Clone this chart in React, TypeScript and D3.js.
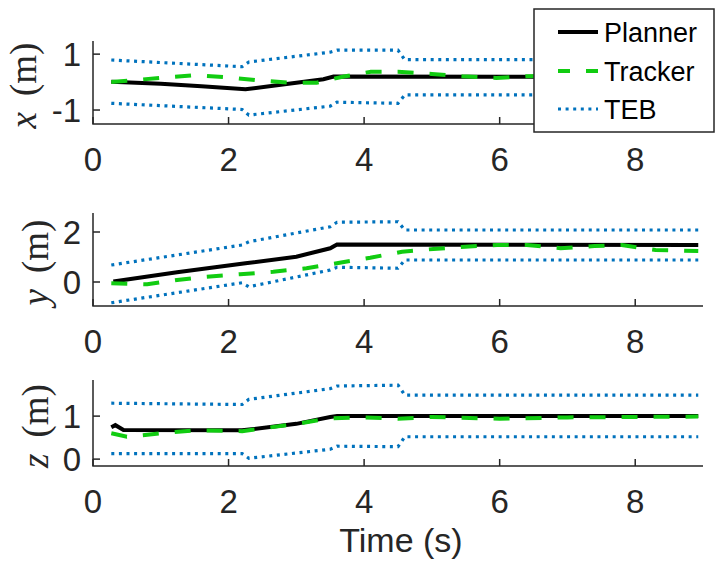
import React from 'react';
import * as d3 from "d3";

type Pt = [number, number];

// time axis
const timeTicks = [0, 2, 4, 6, 8];
const timeDomain: Pt = [0, 9];

// x (m)
const plannerX: Pt[] = [[0.27, 0.01], [1.0, -0.06], [1.6, -0.15], [2.25, -0.26], [2.8, -0.09], [3.4, 0.1], [3.55, 0.2], [8.93, 0.19]];
const trackerX: Pt[] = [[0.27, 0.0], [1.0, 0.15], [1.5, 0.25], [2.0, 0.17], [2.4, 0.07], [2.9, -0.02], [3.3, -0.02], [3.7, 0.2], [4.1, 0.37], [4.5, 0.37], [5.0, 0.29], [5.45, 0.21], [5.95, 0.15], [6.4, 0.21], [7.0, 0.22], [8.0, 0.2], [8.93, 0.2]];
const tebUpperX: Pt[] = [[0.27, 0.79], [2.2, 0.55], [2.3, 0.72], [3.5, 1.07], [3.6, 1.14], [4.5, 1.14], [4.6, 0.8], [8.93, 0.8]];
const tebLowerX: Pt[] = [[0.27, -0.76], [2.2, -0.98], [2.3, -1.18], [3.5, -0.86], [3.6, -0.72], [4.5, -0.76], [4.6, -0.46], [8.93, -0.46]];

// y (m)
const plannerY: Pt[] = [[0.3, 0.02], [1.24, 0.39], [2.25, 0.75], [3.0, 1.01], [3.5, 1.35], [3.6, 1.5], [8.93, 1.48]];
const trackerY: Pt[] = [[0.27, -0.05], [0.8, -0.09], [1.24, 0.08], [1.67, 0.21], [2.17, 0.31], [2.66, 0.41], [3.15, 0.55], [3.64, 0.77], [4.09, 0.97], [4.56, 1.21], [5.02, 1.32], [5.49, 1.41], [5.96, 1.48], [6.4, 1.48], [6.9, 1.35], [7.4, 1.44], [7.8, 1.48], [8.3, 1.28], [8.93, 1.24]];
const tebUpperY: Pt[] = [[0.27, 0.68], [2.2, 1.48], [2.3, 1.61], [3.5, 2.21], [3.6, 2.39], [4.5, 2.41], [4.6, 2.08], [8.93, 2.08]];
const tebLowerY: Pt[] = [[0.27, -0.83], [2.2, -0.03], [2.3, -0.19], [3.5, 0.48], [3.6, 0.59], [4.5, 0.55], [4.6, 0.88], [8.93, 0.88]];

// z (m)
const plannerZ: Pt[] = [[0.27, 0.74], [0.33, 0.79], [0.45, 0.68], [2.2, 0.67], [3.0, 0.82], [3.5, 0.98], [3.6, 1.0], [8.93, 1.0]];
const trackerZ: Pt[] = [[0.27, 0.6], [0.5, 0.52], [1.0, 0.6], [1.5, 0.67], [2.2, 0.65], [3.0, 0.82], [3.5, 0.95], [4.0, 0.97], [4.5, 0.94], [5.0, 0.98], [6.0, 0.94], [7.0, 0.97], [8.0, 0.98], [8.93, 0.99]];
const tebUpperZ: Pt[] = [[0.27, 1.3], [2.2, 1.27], [2.3, 1.39], [3.5, 1.64], [3.6, 1.7], [4.5, 1.72], [4.6, 1.49], [8.93, 1.49]];
const tebLowerZ: Pt[] = [[0.27, 0.13], [2.2, 0.13], [2.3, 0.02], [3.5, 0.23], [3.6, 0.3], [4.5, 0.29], [4.6, 0.52], [8.93, 0.52]];

const legendNames = ["Planner", "Tracker", "TEB"];

const axisColor = "#262626";
const sans = "'Liberation Sans', Arial, sans-serif";
const serif = "'Liberation Serif', 'Times New Roman', serif";

const styles = [
    {stroke: "#000000", width: 4, dash: undefined as string | undefined},
    {stroke: "#11cc11", width: 4, dash: "16,16"},
    {stroke: "#0072bd", width: 3.2, dash: "3,4.6"},
];

const left = 93, right = 703;

const panels = [
    {name: "x", top: 41, bottom: 124, domain: [-1.5, 1.47], ticks: [-1, 1], labelX: 36,
        series: [plannerX, trackerX, tebUpperX, tebLowerX]},
    {name: "y", top: 213, bottom: 306, domain: [-0.96, 2.76], ticks: [0, 2], labelX: 48,
        series: [plannerY, trackerY, tebUpperY, tebLowerY]},
    {name: "z", top: 380, bottom: 466, domain: [-0.16, 1.84], ticks: [0, 1], labelX: 48,
        series: [plannerZ, trackerZ, tebUpperZ, tebLowerZ]},
];

const xScale = d3.scaleLinear().domain(timeDomain).range([left, right]);

const Panel = ({p}: {p: typeof panels[0]}) => {
    const yScale = d3.scaleLinear().domain(p.domain).range([p.bottom, p.top]);
    const line = d3.line<Pt>().x(d => xScale(d[0])).y(d => yScale(d[1]));
    const styleOf = (i: number) => styles[Math.min(i, 2)];
    const midY = (p.top + p.bottom) / 2;
    return (
        <g>
            {p.series.map((s, i) => {
                const st = styleOf(i);
                return <path key={i} d={line(s) || ""} fill="none" stroke={st.stroke}
                             strokeWidth={st.width} strokeDasharray={st.dash}/>;
            })}
            <path d={`M${left},${p.top}V${p.bottom}H${right}`} fill="none" stroke={axisColor} strokeWidth={1.5}/>
            {timeTicks.map(t => (
                <g key={t}>
                    <line x1={xScale(t)} x2={xScale(t)} y1={p.bottom} y2={p.bottom - 7} stroke={axisColor} strokeWidth={1.5}/>
                    <text x={xScale(t)} y={p.bottom + 47} textAnchor="middle" fontFamily={sans} fontSize={33}
                          fill={axisColor}>{t}</text>
                </g>
            ))}
            {p.ticks.map(t => (
                <g key={t}>
                    <line x1={left} x2={left + 7} y1={yScale(t)} y2={yScale(t)} stroke={axisColor} strokeWidth={1.5}/>
                    <text x={81} y={yScale(t)} dy="0.36em" textAnchor="end" fontFamily={sans} fontSize={33}
                          fill={axisColor}>{t}</text>
                </g>
            ))}
            <text transform={`translate(${p.labelX},${midY + 3}) rotate(-90)`} textAnchor="middle"
                  fontFamily={serif} fontSize={37} fill={axisColor}>
                <tspan fontStyle="italic">{p.name}</tspan>
                <tspan dx={16}>(m)</tspan>
            </text>
        </g>
    );
};

const App = () => {
    const legendX = 534, legendY = 9, legendW = 180, legendH = 123;
    const rowY = [32, 71, 109];
    return (
        <svg width={719} height={561} style={{position: "absolute", left: 0, top: 0, background: "#fff"}}>
            <rect width={719} height={561} fill="#fff"/>
            {panels.map(p => <Panel key={p.name} p={p}/>)}
            <text x={(left + right) / 2 + 3} y={552} textAnchor="middle" fontFamily={sans} fontSize={34}
                  fill={axisColor}>Time (s)</text>

            <rect x={legendX} y={legendY} width={legendW} height={legendH} fill="#fff" stroke={axisColor}
                  strokeWidth={1.5}/>
            {legendNames.map((n, i) => (
                <g key={n}>
                    <line x1={558} x2={598} y1={rowY[i]} y2={rowY[i]} stroke={styles[i].stroke}
                          strokeWidth={styles[i].width} strokeDasharray={i === 1 ? "12,16" : styles[i].dash}/>
                    <text x={604} y={rowY[i]} dy="0.36em" fontFamily={sans} fontSize={27} fill="#000">{n}</text>
                </g>
            ))}
        </svg>
    );
};

export default App;
